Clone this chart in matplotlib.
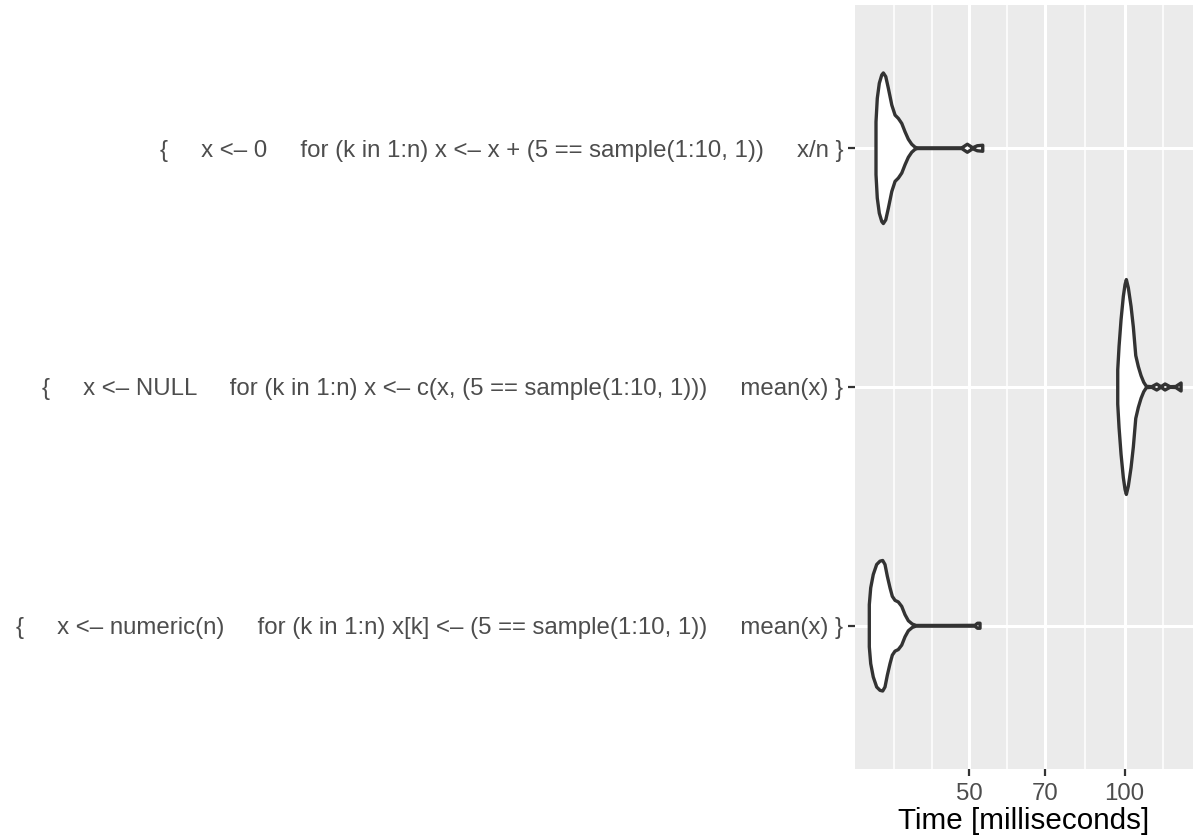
import numpy as np
import matplotlib
matplotlib.use("Agg")
import matplotlib.pyplot as plt
from matplotlib.ticker import FixedLocator, NullFormatter, FixedFormatter

plt.rcParams['font.family'] = ['Liberation Sans', 'DejaVu Sans']

# ---- data -------------------------------------------------------------
expr_labels = [
    "{     x <\u2013 numeric(n)     for (k in 1:n) x[k] <\u2013 (5 == sample(1:10, 1))     mean(x) }",
    "{     x <\u2013 NULL     for (k in 1:n) x <\u2013 c(x, (5 == sample(1:10, 1)))     mean(x) }",
    "{     x <\u2013 0     for (k in 1:n) x <\u2013 x + (5 == sample(1:10, 1))     x/n }",
]

# density profiles (time in ms, relative density)
time_numeric = [31.95, 32.15, 32.52, 33.02, 33.51, 33.92, 34.27, 34.63, 35.05, 35.41,
                35.84, 36.37, 36.93, 37.48, 38.04, 38.72, 39.37, 45.83, 51.25, 51.82, 52.41]
dens_numeric = [21, 37.7, 51, 61, 64.3, 65, 61, 49.3, 37.7, 29.3,
                25.3, 23.7, 19.3, 11, 5, 1.7, 0.3, 0.3, 0.4, 2.5, 2.5]

time_null = [97.0, 97.57, 98.45, 99.46, 100.22, 100.81, 101.71, 102.95, 104.01, 105.14,
             106.36, 107.66, 108.96, 110.24, 112.93, 115.48, 117.73, 119.86, 122.57,
             125.73, 128.76]
dens_null = [17, 40.3, 67, 90.3, 102, 107, 98.7, 80.3, 59.7, 31.3,
             20.3, 11.3, 4.7, 0.7, 0.3, 3, 0.3, 3, 0.3, 0.5, 4]

time_zero = [32.92, 33.11, 33.41, 33.78, 34.02, 34.39, 34.79, 35.33, 35.85, 36.38,
             36.94, 37.49, 38.04, 38.62, 39.21, 39.61, 44.81, 48.30, 49.52, 50.73,
             51.78, 53.05]
dens_zero = [26.3, 49.7, 64.7, 73, 75, 71.3, 59.7, 43, 33, 29.7,
             24.7, 16.3, 9, 4, 1, 0.3, 0.3, 0.3, 4, 0.5, 2.5, 3]

times = [time_numeric, time_null, time_zero]
dens = [dens_numeric, dens_null, dens_zero]

major_ticks = [50, 70, 100]
minor_ticks = [35.6, 42.2, 59.2, 83.7, 118.7]
x_limits = (29.97, 135.8)

# ---- figure -----------------------------------------------------------
W, H = 1193, 839
fig = plt.figure(figsize=(W / 100, H / 100), dpi=100)
ax = fig.add_axes([855 / W, (H - 769) / H, (W - 855) / W, (769 - 5) / H])
ax.set_facecolor('#EBEBEB')

ax.set_xscale('log')
ax.set_xlim(*x_limits)
ax.set_ylim(0.4, 3.6)

ax.xaxis.set_major_locator(FixedLocator(major_ticks))
ax.xaxis.set_major_formatter(FixedFormatter([str(t) for t in major_ticks]))
ax.xaxis.set_minor_locator(FixedLocator(minor_ticks))
ax.xaxis.set_minor_formatter(NullFormatter())

positions = [1, 2, 3]
ax.set_yticks(positions)
ax.set_yticklabels(expr_labels)

ax.grid(which='major', axis='both', color='white', linewidth=2.2)
ax.grid(which='minor', axis='x', color='white', linewidth=1.1)
ax.set_axisbelow(True)

maxd = max(max(d) for d in dens)
for pos, t, d in zip(positions, times, dens):
    t = np.asarray(t)
    w = 0.45 * np.asarray(d) / maxd
    xs = np.concatenate([t, t[::-1]])
    ys = np.concatenate([pos + w, (pos - w)[::-1]])
    ax.fill(xs, ys, facecolor='white', edgecolor='#333333', linewidth=2.4,
            joinstyle='round', zorder=3)

for s in ax.spines.values():
    s.set_visible(False)

ax.tick_params(axis='both', which='major', length=5, width=1.6, color='#333333',
               labelcolor='#4D4D4D', labelsize=17.3, pad=3.4)
ax.tick_params(axis='x', which='major', pad=5.4)
ax.tick_params(axis='x', which='minor', length=0)
ax.set_xlabel('Time [milliseconds]', fontsize=21.3, color='black', labelpad=1)

fig.savefig('out.png', dpi=100, facecolor='white')
